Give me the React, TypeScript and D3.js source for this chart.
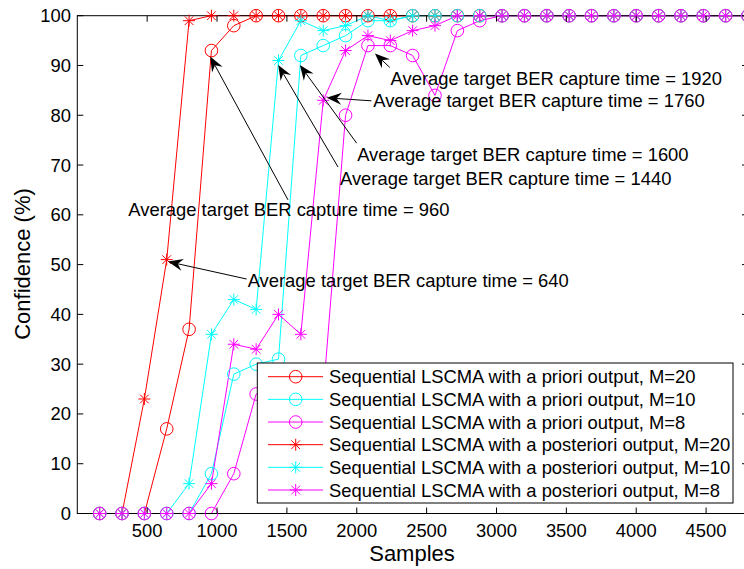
import React from 'react';
import * as d3 from 'd3';

// ---------- data ----------
const samples = [160, 320, 480, 640, 800, 960, 1120, 1280, 1440, 1600, 1760, 1920, 2080, 2240, 2400, 2560, 2720, 2880, 3040, 3200, 3360, 3520, 3680, 3840, 4000, 4160, 4320, 4480, 4640, 4800];

const aprioriM20 = [0, 0, 0, 17, 37, 93, 98, 100, 100, 100, 100, 100, 100, 100, 100, 100, 100, 100, 100, 100, 100, 100, 100, 100, 100, 100, 100, 100, 100, 100];
const aprioriM10 = [0, 0, 0, 0, 0, 8, 28, 30, 31, 92, 94, 96, 99, 99, 100, 100, 100, 100, 100, 100, 100, 100, 100, 100, 100, 100, 100, 100, 100, 100];
const aprioriM8 = [0, 0, 0, 0, 0, 0, 8, 24, 25, 24, 24, 80, 94, 94, 92, 84, 97, 99, 100, 100, 100, 100, 100, 100, 100, 100, 100, 100, 100, 100];
const posterioriM20 = [0, 0, 23, 51, 99, 100, 100, 100, 100, 100, 100, 100, 100, 100, 100, 100, 100, 100, 100, 100, 100, 100, 100, 100, 100, 100, 100, 100, 100, 100];
const posterioriM10 = [0, 0, 0, 0, 6, 36, 43, 41, 91, 99, 97, 98, 100, 99, 100, 100, 100, 100, 100, 100, 100, 100, 100, 100, 100, 100, 100, 100, 100, 100];
const posterioriM8 = [0, 0, 0, 0, 0, 6, 34, 33, 40, 36, 83, 93, 96, 95, 97, 98, 100, 100, 100, 100, 100, 100, 100, 100, 100, 100, 100, 100, 100, 100];

const seriesValues = [aprioriM20, aprioriM10, aprioriM8, posterioriM20, posterioriM10, posterioriM8];
const seriesNames = [
  'Sequential LSCMA with a priori output, M=20',
  'Sequential LSCMA with a priori output, M=10',
  'Sequential LSCMA with a priori output, M=8',
  'Sequential LSCMA with a posteriori output, M=20',
  'Sequential LSCMA with a posteriori output, M=10',
  'Sequential LSCMA with a posteriori output, M=8',
];
const seriesColors = ['#ff0000', '#00ffff', '#ff00ff', '#ff0000', '#00ffff', '#ff00ff'];
const seriesMarkers = ['o', 'o', 'o', '*', '*', '*'];

const xTicks = [500, 1000, 1500, 2000, 2500, 3000, 3500, 4000, 4500];
const yTicks = [0, 10, 20, 30, 40, 50, 60, 70, 80, 90, 100];

// annotations (data units)
const annotationLabels = [
  'Average target BER capture time = 640',
  'Average target BER capture time = 960',
  'Average target BER capture time = 1440',
  'Average target BER capture time = 1600',
  'Average target BER capture time = 1760',
  'Average target BER capture time = 1920',
];
const annotationTipX = [649, 951, 1438, 1593, 1784, 2130];
const annotationTipY = [50.6, 91.8, 90.1, 90.1, 83.5, 92.4];
const annotationTailX = [1212, 1508, 1866, 1999, 2105, 2237];
const annotationTailY = [47.1, 63.0, 69.6, 74.4, 82.9, 89.6];
const annotationTextX = [1219, 365, 1880, 2003, 2118, 2242];
const annotationTextY = [46.9, 61.0, 67.2, 72.2, 82.9, 87.3];

// ---------- layout ----------
const W = 744;
const H = 569;
const left = 77.3;
const right = 748;
const top = 15.7;
const bottom = 513.5;
const FONT = '"Liberation Sans", Arial, Helvetica, sans-serif';
const FS = 18.4;

const x = d3.scaleLinear().domain([0, 4800]).range([left, right]);
const y = d3.scaleLinear().domain([0, 100]).range([bottom, top]);

function Marker({ type, cx, cy, color }: { type: string; cx: number; cy: number; color: string }) {
  if (type === 'o') {
    return <circle cx={cx} cy={cy} r={6.3} fill="none" stroke={color} strokeWidth={1} />;
  }
  const s = 6;
  const d = s * 0.72;
  const p = `M${cx - s},${cy}L${cx + s},${cy}M${cx},${cy - s}L${cx},${cy + s}M${cx - d},${cy - d}L${cx + d},${cy + d}M${cx - d},${cy + d}L${cx + d},${cy - d}`;
  return <path d={p} stroke={color} strokeWidth={1} fill="none" />;
}

function Arrow({ x1, y1, x2, y2 }: { x1: number; y1: number; x2: number; y2: number }) {
  const ang = Math.atan2(y2 - y1, x2 - x1);
  const L = 15;
  const Wd = 6;
  const back = 10;
  const c = Math.cos(ang);
  const s = Math.sin(ang);
  const pt = (a: number, b: number) => `${x2 + a * c - b * s},${y2 + a * s + b * c}`;
  const head = `M${pt(0, 0)}L${pt(-L, Wd)}L${pt(-back, 0)}L${pt(-L, -Wd)}Z`;
  return (
    <g>
      <line x1={x1} y1={y1} x2={x2 - back * c} y2={y2 - back * s} stroke="#000" strokeWidth={1} />
      <path d={head} fill="#000" />
    </g>
  );
}

export default function App() {
  const line = d3
    .line<number>()
    .x((_, i) => x(samples[i]))
    .y((v) => y(v));

  const legendLeft = 257.3;
  const legendTop = 363;
  const legendRight = 733;
  const legendBottom = 503;
  const rowY0 = 376.7;
  const rowStep = 22.66;

  return (
    <svg
      width={W}
      height={H}
      style={{ position: 'absolute', left: 0, top: 0, background: '#fff' }}
      fontFamily={FONT}
    >
      <rect x={0} y={0} width={W} height={H} fill="#fff" />
      <defs>
        <clipPath id="plotclip">
          <rect x={left - 8} y={top - 8} width={right - left + 16} height={bottom - top + 16} />
        </clipPath>
      </defs>

      {/* series lines */}
      <g clipPath="url(#plotclip)">
        {seriesValues.map((vals, si) => (
          <path key={si} d={line(vals) || ''} fill="none" stroke={seriesColors[si]} strokeWidth={1} />
        ))}
      </g>

      {/* axes box */}
      <rect x={left} y={top} width={right - left} height={bottom - top} fill="none" stroke="#000" strokeWidth={1} />

      {/* series markers */}
      <g clipPath="url(#plotclip)">
        {seriesValues.map((vals, si) => (
          <g key={si}>
            {vals.map((v, i) => (
              <Marker key={i} type={seriesMarkers[si]} cx={x(samples[i])} cy={y(v)} color={seriesColors[si]} />
            ))}
          </g>
        ))}
      </g>

      {xTicks.map((t) => (
        <g key={'xt' + t}>
          <line x1={x(t)} x2={x(t)} y1={bottom} y2={bottom - 6} stroke="#000" />
          <line x1={x(t)} x2={x(t)} y1={top} y2={top + 6} stroke="#000" />
          <text x={x(t)} y={530} fontSize={FS} textAnchor="middle" dominantBaseline="central" fill="#000">
            {t}
          </text>
        </g>
      ))}
      {yTicks.map((t) => (
        <g key={'yt' + t}>
          <line x1={left} x2={left + 6} y1={y(t)} y2={y(t)} stroke="#000" />
          <line x1={right} x2={right - 6} y1={y(t)} y2={y(t)} stroke="#000" />
          <text x={71} y={y(t)} fontSize={FS} textAnchor="end" dominantBaseline="central" fill="#000">
            {t}
          </text>
        </g>
      ))}

      {/* axis labels */}
      <text x={412} y={553} fontSize={22} textAnchor="middle" dominantBaseline="central" fill="#000">
        Samples
      </text>
      <text
        transform={`translate(22,264) rotate(-90)`}
        fontSize={22}
        textAnchor="middle"
        dominantBaseline="central"
        fill="#000"
      >
        Confidence (%)
      </text>

      {/* annotations */}
      {annotationLabels.map((lab, i) => (
        <g key={'an' + i}>
          <Arrow
            x1={x(annotationTailX[i])}
            y1={y(annotationTailY[i])}
            x2={x(annotationTipX[i])}
            y2={y(annotationTipY[i])}
          />
          <text
            x={x(annotationTextX[i])}
            y={y(annotationTextY[i])}
            fontSize={FS}
            dominantBaseline="central"
            fill="#000"
          >
            {lab}
          </text>
        </g>
      ))}

      {/* legend */}
      <rect
        x={legendLeft}
        y={legendTop}
        width={legendRight - legendLeft}
        height={legendBottom - legendTop}
        fill="#fff"
        stroke="#000"
        strokeWidth={1}
      />
      {seriesNames.map((name, i) => {
        const ry = rowY0 + i * rowStep;
        return (
          <g key={'lg' + i}>
            <line x1={268} x2={323} y1={ry} y2={ry} stroke={seriesColors[i]} strokeWidth={1} />
            <Marker type={seriesMarkers[i]} cx={295.7} cy={ry} color={seriesColors[i]} />
            <text x={329} y={ry} fontSize={FS} dominantBaseline="central" fill="#000">
              {name}
            </text>
          </g>
        );
      })}
    </svg>
  );
}
